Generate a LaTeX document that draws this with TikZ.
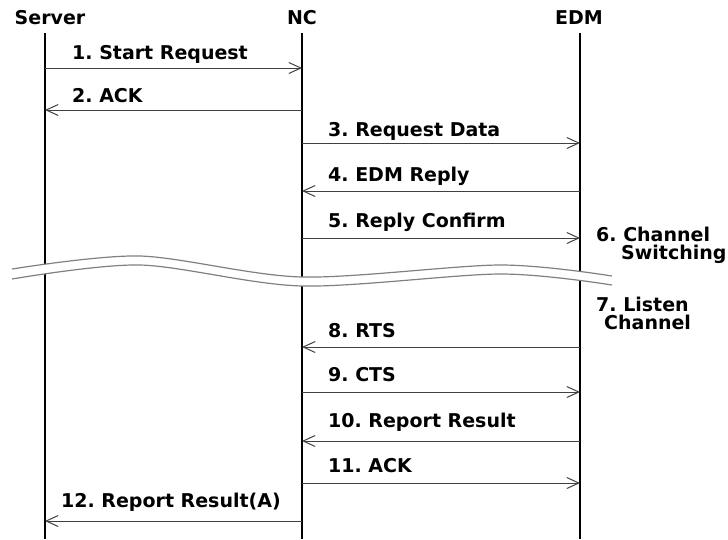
\documentclass[tikz,border=0pt]{standalone}
\usepackage{fontspec}
\setmainfont{DejaVu Sans}
\usetikzlibrary{arrows.meta}
\frenchspacing

\begin{document}
\begin{tikzpicture}
[
x=1pt, y=-1pt,
every node/.style={font=\bfseries\fontsize{19}{17.5}\selectfont, inner sep=0pt},
life/.style={line width=2pt},
msg/.style={draw=black!75, line width=1pt, -{Straight Barb[length=12pt,width=11pt]}},
gap/.style={draw=black!50, line width=1.2pt}
]
\useasboundingbox (0,0) rectangle (728,539);

% participants
\node[anchor=base] (server) at (50,24) {Server};
\node[anchor=base] (nc) at (302,24) {NC};
\node[anchor=base] (edm) at (579,24) {EDM};

\coordinate (srvtop) at (45,33);
\coordinate (nctop) at (302,33);
\coordinate (edmtop) at (580,33);
\coordinate (srvend) at (45,539);
\coordinate (ncend) at (302,539);
\coordinate (edmend) at (580,539);

\draw[life] (srvtop) -- (srvend);
\draw[life] (nctop) -- (ncend);
\draw[life] (edmtop) -- (edmend);

% time break
\fill[white] plot[smooth] coordinates {(12,269) (140,256) (302,277) (500,265) (612,276)}
  -- plot[smooth] coordinates {(612,285) (500,274) (302,286) (140,265) (12,279)} -- cycle;
\draw[gap] plot[smooth] coordinates {(12,269) (140,256) (302,277) (500,265) (612,276)};
\draw[gap] plot[smooth] coordinates {(12,279) (140,265) (302,286) (500,274) (612,285)};

% messages
\foreach \i/\a/\b/\y/\lx/\ly/\txt in {
  1/srvtop/nctop/68/72/59/{1. Start Request},
  2/nctop/srvtop/110/72/102/{2. ACK},
  3/nctop/edmtop/143/328/136/{3. Request Data},
  4/edmtop/nctop/191/328/181/{4. EDM Reply},
  5/nctop/edmtop/238/328/227/{5. Reply Confirm},
  8/edmtop/nctop/347/328/337/{8. RTS},
  9/nctop/edmtop/392/328/381/{9. CTS},
  10/edmtop/nctop/441/328/427/{10. Report Result},
  11/nctop/edmtop/483/328/472/{11. ACK},
  12/nctop/srvtop/521/61/507/{12. Report Result(A)}
}{
  \coordinate (from\i) at (\a |- 0,\y);
  \coordinate (to\i) at (\b |- 0,\y);
  \draw[msg] (from\i) -- (to\i);
  \node[anchor=base west] (label\i) at (\lx,\ly) {\txt};
}

% notes at EDM
\node[anchor=north west, align=left] (switch) at (596,227) {6. Channel\\\hspace*{25pt}Switching};
\node[anchor=north west, align=left] (listen) at (596,297) {7. Listen\\\hspace*{8pt}Channel};
\end{tikzpicture}
\end{document}
